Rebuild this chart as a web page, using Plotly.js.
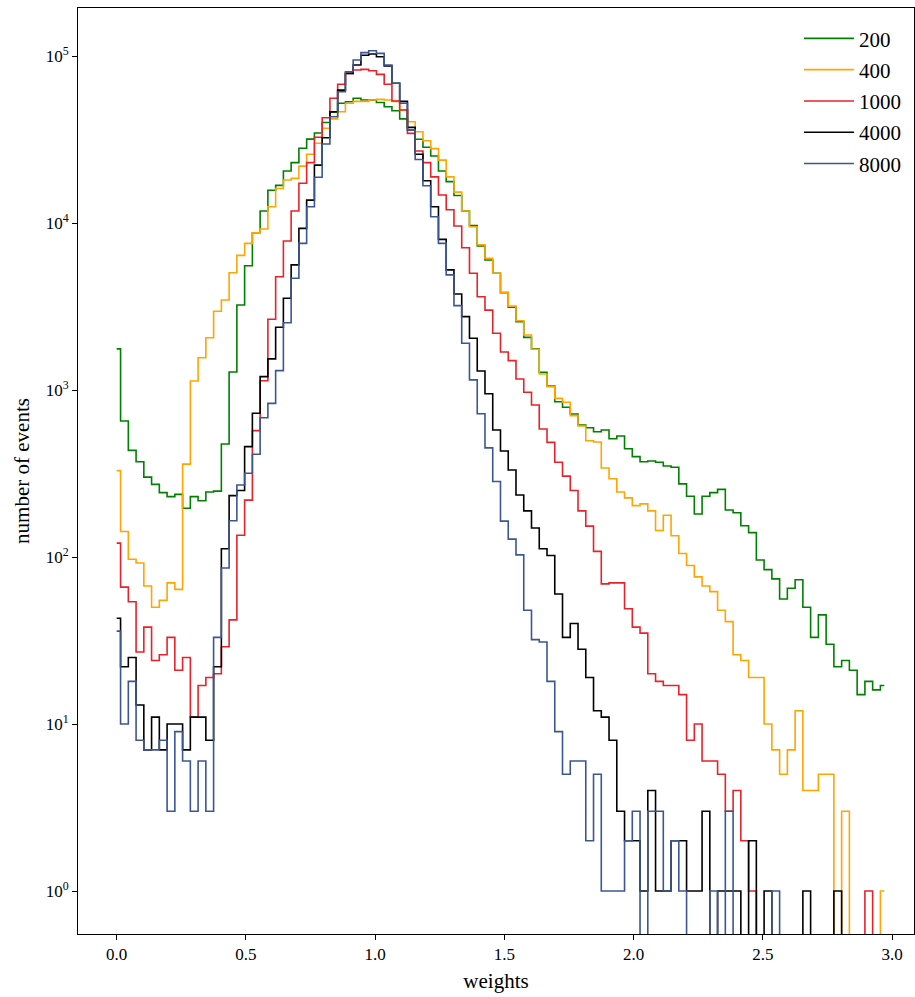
<!DOCTYPE html>
<html>
<head>
<meta charset="utf-8">
<script src="https://cdn.plot.ly/plotly-3.0.1.min.js"></script>
<style>html,body{margin:0;padding:0;background:#fff;}#chart{width:915px;height:997px;}</style>
</head>
<body>
<div id="chart"></div>
<script>
// Histogram bins: centres start at 0 with width 0.03 (100 bins)
const binStart = 0.0;
const binWidth = 0.03;
const nBins = 100;

const seriesNames = ["200", "400", "1000", "4000", "8000"];

const counts200 = [
 1762, 652, 435, 372, 301, 272, 243, 230, 237, 196,
 230, 217, 245, 248, 475, 1282, 3228, 5547, 8750, 11800,
 15700, 16800, 20500, 23000, 28000, 31800, 34600, 40000, 46000, 52100,
 53200, 55800, 54500, 54500, 52700, 49700, 47000, 42000, 36000, 31700,
 28400, 25200, 20500, 17700, 14600, 11800, 9640, 7280, 6000, 5000,
 3830, 3130, 2566, 2066, 1762, 1277, 1057, 851, 788, 718,
 617, 594, 562, 576, 511, 530, 445, 399, 372, 376,
 369, 351, 345, 274, 231, 181, 231, 243, 254, 191,
 184, 154, 140, 96, 84, 74, 56, 65, 73, 50,
 33, 45, 30, 22, 24, 21, 15, 18, 16, 17
];

const counts400 = [
 329, 142, 97, 92, 67, 50, 55, 70, 64, 360,
 1132, 1560, 2055, 2960, 3459, 5040, 6400, 7550, 8750, 9200,
 12500, 16100, 18100, 18500, 21900, 25800, 30000, 36900, 42000, 46400,
 52100, 53500, 53500, 54500, 55000, 54500, 53500, 47500, 40400, 35200,
 31100, 27900, 23800, 18900, 15300, 11800, 9500, 7410, 6140, 5000,
 3830, 3180, 2600, 2135, 1753, 1247, 1047, 891, 844, 702,
 609, 497, 488, 341, 294, 245, 226, 203, 208, 189,
 144, 178, 134, 105, 89, 76, 67, 62, 48, 41,
 26, 24, 19, 19, 10, 7, 5, 7, 12, 4,
 4, 5, 5, 0, 3, 0, 0, 0, 0, 1
];

const counts1000 = [
 121, 66, 54, 27, 38, 24, 26, 33, 21, 25,
 11, 17, 19, 20, 29, 42, 135, 219, 571, 1137,
 2650, 4770, 7800, 11800, 17300, 23000, 32600, 42700, 55800, 67700,
 78700, 82400, 83100, 81600, 77600, 67700, 53800, 47500, 34400, 27000,
 23000, 18900, 14700, 12000, 9600, 7110, 5000, 3620, 3010, 2185,
 1690, 1500, 1164, 969, 813, 584, 486, 369, 305, 250,
 189, 153, 108, 69, 70, 70, 49, 38, 35, 20,
 18, 17, 17, 15, 8, 10, 6, 6, 5, 3,
 4, 2, 1, 0, 0, 0, 0, 0, 0, 0,
 0, 0, 0, 0, 0, 0, 0, 1, 0, 0
];

const counts4000 = [
 43, 22, 25, 13, 7, 11, 7, 10, 10, 7,
 11, 11, 8, 22, 112, 233, 250, 458, 725, 1202,
 1535, 2373, 3540, 5610, 9290, 13700, 22200, 32400, 46400, 62500,
 78700, 88300, 101000, 102800, 99000, 87100, 68700, 53500, 37400, 25800,
 17900, 12500, 7980, 5240, 3760, 2750, 2040, 1300, 950, 576,
 431, 332, 235, 189, 149, 112, 102, 60, 33, 40,
 28, 19, 12, 11, 8, 3, 2, 2, 1, 4,
 1, 1, 2, 2, 1, 1, 3, 0, 1, 1,
 1, 0, 2, 0, 1, 0, 0, 0, 0, 1,
 0, 0, 0, 1, 0, 0, 0, 0, 0, 0
];

const counts8000 = [
 36, 10, 18, 8, 7, 7, 8, 3, 9, 6,
 3, 6, 3, 33, 86, 165, 270, 317, 412, 682,
 832, 1306, 2530, 4670, 7550, 12500, 18800, 29700, 43300, 61100,
 80500, 94600, 104700, 107600, 103700, 88300, 68700, 52100, 36000, 24000,
 16700, 10900, 7550, 4890, 3200, 1905, 1150, 720, 450, 283,
 164, 128, 103, 48, 32, 31, 18, 9, 5, 6,
 6, 2, 5, 1, 1, 1, 2, 3, 0, 3,
 3, 1, 2, 1, 0, 0, 0, 1, 0, 3,
 0, 0, 0, 0, 0, 1, 0, 0, 0, 0,
 0, 0, 0, 0, 0, 0, 0, 0, 0, 0
];

const seriesColors = ["#008000", "#ffa500", "#e8222a", "#000000", "#3c5694"];

const xTickVals = [0.0, 0.5, 1.0, 1.5, 2.0, 2.5, 3.0];
const yTickVals = [1, 10, 100, 1000, 10000, 100000];
const yTickText = ["10<sup>0</sup>", "10<sup>1</sup>", "10<sup>2</sup>", "10<sup>3</sup>", "10<sup>4</sup>", "10<sup>5</sup>"];

const binCentres = Array.from({length: nBins}, (_, i) => +(binStart + i * binWidth).toFixed(4));
const allCounts = [counts200, counts400, counts1000, counts4000, counts8000];
// empty bins: drawn down to below the visible axis like matplotlib does on a log scale
const emptyLevel = 1e-3;

const FONT = "Liberation Serif, DejaVu Serif, serif";

const traces = allCounts.map((c, k) => ({
  type: "scatter",
  mode: "lines",
  name: seriesNames[k],
  legendgroup: "g" + k,
  x: binCentres,
  y: c.map(v => v > 0 ? v : emptyLevel),
  line: {shape: "hvh", color: seriesColors[k], width: 1.6},
  hoverinfo: "x+y+name"
}));

const layout = {
  width: 915, height: 997,
  margin: {l: 78, r: 1, t: 8, b: 63},
  paper_bgcolor: "#fff", plot_bgcolor: "#fff",
  font: {family: FONT, color: "#000", size: 17},
  showlegend: true,
  legend: {
    x: 0.8624, y: 0.989, xanchor: "left", yanchor: "top",
    bgcolor: "rgba(0,0,0,0)", borderwidth: 0,
    font: {family: FONT, size: 21, color: "#000"},
    itemwidth: 50,
    tracegroupgap: 1
  },
  xaxis: {
    range: [-0.1497, 3.085],
    tickvals: xTickVals, tickformat: ".1f",
    ticks: "outside", ticklen: 5, tickwidth: 1, tickcolor: "#000",
    showline: true, linecolor: "#000", linewidth: 1, mirror: true,
    showgrid: false, zeroline: false,
    tickfont: {family: FONT, size: 17},
    title: {text: "weights", font: {family: FONT, size: 21}, standoff: 9}
  },
  yaxis: {
    type: "log",
    range: [-0.2575, 5.2874],
    tickvals: yTickVals, ticktext: yTickText,
    ticks: "outside", ticklen: 5, tickwidth: 1, tickcolor: "#000",
    showline: true, linecolor: "#000", linewidth: 1, mirror: true,
    showgrid: false, zeroline: false,
    tickfont: {family: FONT, size: 17},
    title: {text: "number of events", font: {family: FONT, size: 21}, standoff: 10}
  }
};

Plotly.newPlot("chart", traces, layout, {displayModeBar: false, staticPlot: true});
</script>
</body>
</html>
